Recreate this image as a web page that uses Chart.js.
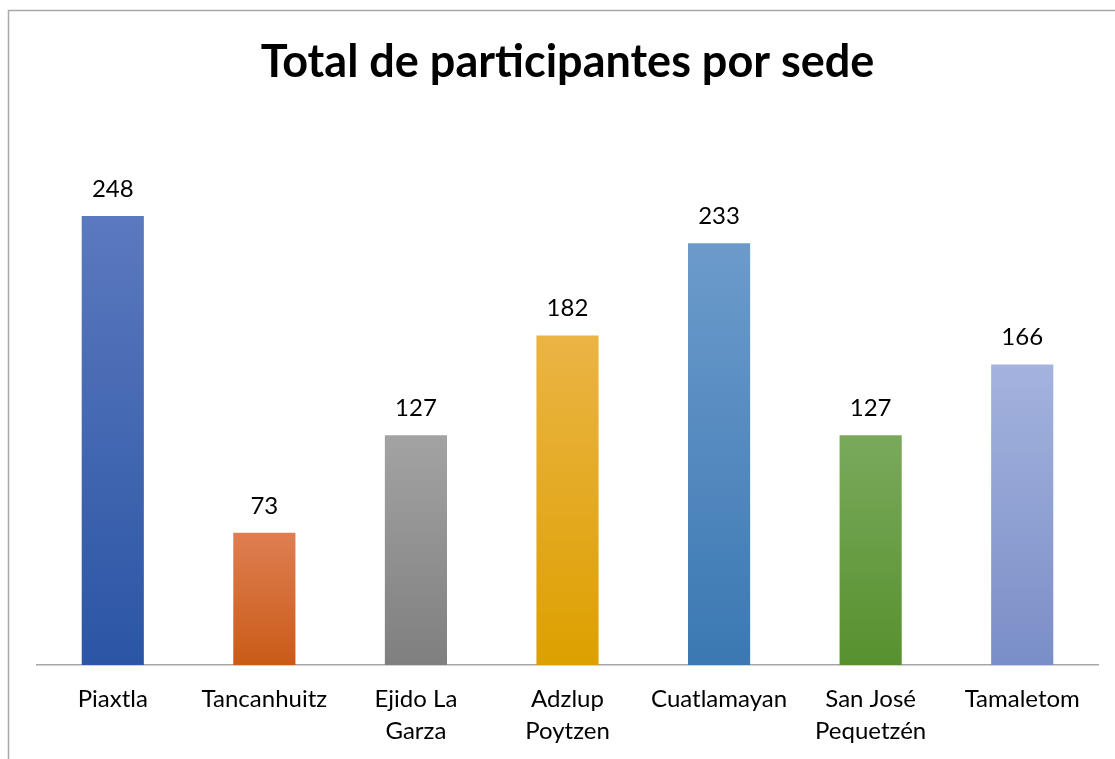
<!DOCTYPE html>
<html>
<head>
<meta charset="utf-8">
<script src="https://cdn.jsdelivr.net/npm/chart.js@4"></script>
<style>
html,body{margin:0;padding:0;background:#fff;}
canvas{display:block;}
</style>
</head>
<body>
<canvas id="c" width="1115" height="759"></canvas>
<script>
const categories = [["Piaxtla"], ["Tancanhuitz"], ["Ejido La", "Garza"], ["Adzlup", "Poytzen"], ["Cuatlamayan"], ["San José", "Pequetzén"], ["Tamaletom"]];
const participantes = [248, 73, 127, 182, 233, 127, 166];
const topColors = ["#5b79be", "#df7e52", "#a3a3a3", "#ebb444", "#6c9bcb", "#7aa95c", "#a4b3de"];
const bottomColors = ["#2b55a5", "#c95b17", "#7f7f7f", "#dda000", "#3b78b3", "#57912e", "#7a8ec7"];
const FONT = "Lato, 'Liberation Sans', sans-serif";

const borderPlugin = {
  id: 'frame',
  beforeDraw(chart) {
    const c = chart.ctx;
    c.save();
    c.fillStyle = '#fff';
    c.fillRect(0, 0, chart.width, chart.height);
    c.strokeStyle = '#a8a8a8';
    c.lineWidth = 1.5;
    c.strokeRect(8.5, 10.5, chart.width + 20, chart.height + 20);
    c.restore();
  }
};

const labelPlugin = {
  id: 'valueLabels',
  afterDatasetsDraw(chart) {
    const c = chart.ctx;
    const meta = chart.getDatasetMeta(0);
    c.save();
    c.font = "24px " + FONT;
    c.fillStyle = '#000';
    c.textAlign = 'center';
    c.textBaseline = 'middle';
    meta.data.forEach((bar, i) => {
      c.fillText(String(participantes[i]), bar.x, bar.y - 27);
    });
    c.restore();
  }
};

new Chart(document.getElementById('c'), {
  type: 'bar',
  data: {
    labels: categories,
    datasets: [{
      data: participantes,
      backgroundColor(ctx) {
        const chart = ctx.chart;
        const i = ctx.dataIndex;
        if (!chart.chartArea || i === undefined) return topColors[i || 0];
        const y = chart.scales.y;
        const g = chart.ctx.createLinearGradient(0, y.getPixelForValue(participantes[i]), 0, y.getPixelForValue(0));
        g.addColorStop(0, topColors[i]);
        g.addColorStop(1, bottomColors[i]);
        return g;
      },
      borderWidth: 0,
      barPercentage: 0.41,
      categoryPercentage: 1.0
    }]
  },
  options: {
    responsive: false,
    animation: false,
    layout: { padding: { left: 37, right: 17, top: 0, bottom: 12 } },
    plugins: {
      legend: { display: false },
      tooltip: { enabled: false },
      title: {
        display: true,
        text: 'Total de participantes por sede',
        color: '#000',
        font: { family: FONT, size: 45, weight: 'bold', lineHeight: 1.2 },
        padding: { top: 35, bottom: 33 }
      }
    },
    scales: {
      x: {
        grid: { display: false, drawTicks: false },
        border: { display: true, color: '#a6a6a6', width: 1.5 },
        afterFit(scale) { scale.height = 82; },
        ticks: {
          color: '#000',
          padding: 18,
          maxRotation: 0,
          autoSkip: false,
          font: { family: FONT, size: 24, lineHeight: 1.333 }
        }
      },
      y: {
        display: false,
        min: 0,
        max: 300
      }
    }
  },
  plugins: [borderPlugin, labelPlugin]
});
</script>
</body>
</html>
